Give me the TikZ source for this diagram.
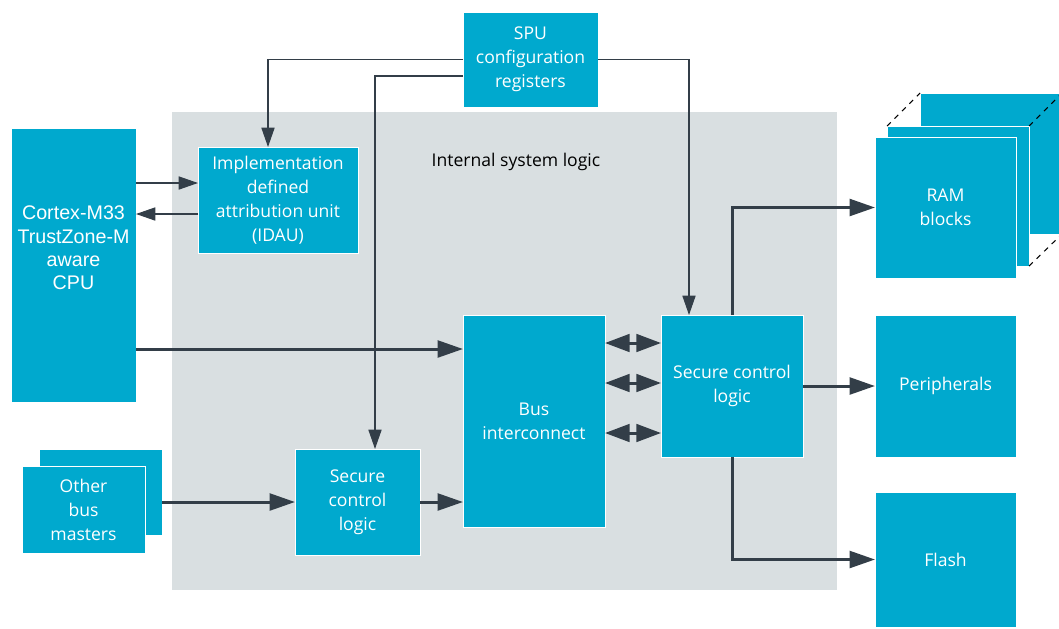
\documentclass[tikz,border=0pt]{standalone}
\usepackage{fontspec}
\setmainfont{Open Sans}
\newfontfamily\cpufont{Liberation Sans}
\usetikzlibrary{arrows.meta,positioning}
\definecolor{boxcyan}{HTML}{00A9CE}
\definecolor{logicgray}{HTML}{D9DFE1}
\definecolor{wiredark}{HTML}{333E48}
\tikzset{
  blk/.style={fill=boxcyan,draw=white,line width=0.5pt,text=white,align=center,
    font=\fontsize{10}{13.6}\selectfont,inner sep=0pt,outer sep=0pt,anchor=north west},
  ctrl/.style={wiredark,line width=0.6pt,-{Triangle[length=11pt,width=7.5pt]}},
  busline/.style={wiredark,line width=1.7pt,-{Triangle[length=14.5pt,width=9.6pt]}},
  dbl/.style={wiredark,line width=1.7pt,{Triangle[length=14pt,width=10pt]}-{Triangle[length=14pt,width=10pt]}},
}
\begin{document}
\begin{tikzpicture}[x=0.2mm,y=-0.2mm]
  \useasboundingbox (0,0) rectangle (1059,628);
  \clip (0,0) rectangle (1059,628);
  % internal system logic
  \fill[logicgray] (172,112) rectangle (837,590);
  \node[font=\fontsize{10}{13.6}\selectfont] (lbl) at (516,162) {Internal system logic};

  \node[blk,minimum width=27mm,minimum height=19mm] (spu) at (463,12) {SPU\\configuration\\registers};
  \node[blk,minimum width=25mm,minimum height=54.8mm,font=\cpufont\fontsize{11.2}{13.2}\selectfont] (cpu) at (11,128) {Cortex-M33\\TrustZone-M\\aware\\CPU\\[2.2mm]};
  \node[blk,minimum width=32mm,minimum height=21.2mm] (idau) at (198,147) {Implementation\\defined\\attribution unit\\(IDAU)};
  \node[blk,minimum width=28.4mm,minimum height=42.4mm] (bus) at (463,315) {Bus\\interconnect};
  \node[blk,minimum width=28.4mm,minimum height=28.4mm] (sclB) at (661,315) {Secure control\\logic};
  \node[blk,minimum width=25mm,minimum height=21.2mm] (sclA) at (295,449) {Secure\\control\\logic};
  % other bus masters (stacked)
  \node[blk,minimum width=24.6mm,minimum height=17.2mm] (others2) at (39,449) {};
  \node[blk,minimum width=24.6mm,minimum height=17.4mm] (others) at (22,466) {Other\\bus\\masters};
  % RAM blocks (stacked)
  \node[blk,minimum width=28.4mm,minimum height=28.2mm] (ram3) at (920,93) {};
  \node[blk,minimum width=28.4mm,minimum height=28mm] (ram2) at (887,126) {};
  \node[blk,minimum width=28.2mm,minimum height=28.2mm] (ram) at (875,137) {RAM\\blocks};
  \node[blk,minimum width=28.2mm,minimum height=28.4mm] (periph) at (875,315) {Peripherals};
  \node[blk,minimum width=28.2mm,minimum height=27mm] (flash) at (875,492) {Flash};
  \draw[black,dashed,line width=0.6pt] (ram2.north west) -- (ram3.north west)
    (ram2.north east) -- (ram3.north east) (ram2.south east) -- (ram3.south east);

  % configuration wires
  \draw[ctrl] (spu.west) -| ([xshift=-2mm]idau.north);
  \draw[ctrl] ([yshift=-3.3mm]spu.west) -| ([xshift=3.5mm]sclA.north);
  \draw[ctrl] (spu.east) -| ([xshift=-8.6mm]sclB.north);
  \draw[ctrl] ([yshift=3.4mm]idau.west -| cpu.east) -- ([yshift=3.4mm]idau.west);
  \draw[ctrl] ([yshift=-2.8mm]idau.west) -- ([yshift=-2.8mm]idau.west -| cpu.east);

  % bus wires
  \draw[busline] ([yshift=14.4mm]bus.west -| cpu.east) -- ([yshift=14.4mm]bus.west);
  \draw[busline] (sclA.west -| others2.east) -- (sclA.west);
  \draw[busline] (sclA.east) -- (sclA.east -| bus.west);
  \draw[dbl] ([yshift=8.6mm]sclB.west -| bus.east) -- ([yshift=8.6mm]sclB.west);
  \draw[dbl] ([yshift=0.6mm]sclB.west -| bus.east) -- ([yshift=0.6mm]sclB.west);
  \draw[dbl] ([yshift=-9.4mm]sclB.west -| bus.east) -- ([yshift=-9.4mm]sclB.west);
  \draw[busline] (sclB.north) |- (ram.west);
  \draw[busline] (sclB.east) -- (periph.west);
  \draw[busline] (sclB.south) |- (flash.west);
\end{tikzpicture}
\end{document}
